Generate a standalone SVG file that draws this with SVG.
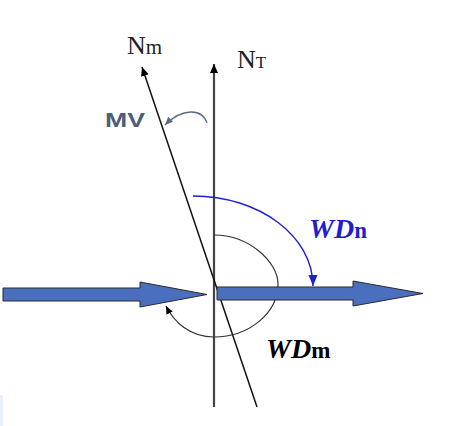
<svg xmlns="http://www.w3.org/2000/svg" width="454" height="426" viewBox="0 0 454 426">
<style>
.serif{font-family:"Liberation Serif","Times New Roman",serif;}
.blk{fill:#4a6fbf;stroke:#2a2a2a;stroke-width:1;}
</style>
<defs>
<marker id="ah" markerWidth="10" markerHeight="10" refX="9" refY="4" orient="auto" markerUnits="userSpaceOnUse"><path d="M0,0 L9,4 L0,8 Z" fill="#000"/></marker>
<marker id="ahs" markerWidth="10" markerHeight="8" refX="8" refY="3.5" orient="auto" markerUnits="userSpaceOnUse"><path d="M0,0 L8,3.5 L0,7 Z" fill="#000"/></marker>
<marker id="ahb" markerWidth="12" markerHeight="10" refX="11" refY="4.5" orient="auto" markerUnits="userSpaceOnUse"><path d="M0,0 L11,4.5 L0,9 Z" fill="#1f1fd0"/></marker>
<marker id="ahg" markerWidth="10" markerHeight="8" refX="8" refY="3.5" orient="auto" markerUnits="userSpaceOnUse"><path d="M0,0 L8,3.5 L0,7 Z" fill="#5b6b85"/></marker>
</defs>
<rect x="0" y="395" width="3" height="31" fill="#e9eff9"/>
<g id="connectors" fill="none">
<line id="nt-axis" x1="214" y1="407" x2="214" y2="64" stroke="#444" stroke-width="2.2" marker-end="url(#ah)"/>
<line id="nm-axis" x1="257" y1="407" x2="142" y2="67" stroke="#111" stroke-width="1.5" marker-end="url(#ah)"/>
<path id="mv-arc" d="M207,123 C202,108 182,108 165,125" stroke="#5b6b85" stroke-width="1.3" marker-end="url(#ahg)"/>
<path id="wdn-arc" d="M193,196 C259,196 313,236 313,286" stroke="#1f1fd0" stroke-width="1.4" marker-end="url(#ahb)"/>
<path id="wdm-arc" d="M214,235 C249,235 278,262 278,284 C278,313 249,337 214,337 C190,337 174,322 166,306" stroke="#333" stroke-width="1.2" marker-end="url(#ahs)"/>
</g>
<g id="arrow-in">
<polygon class="blk" points="3,288 140,288 140,282 207,294.5 140,307 140,301 3,301"/>
</g>
<g id="arrow-out">
<polygon class="blk" points="217,287 353,287 353,281 423,293.5 353,306 353,300 217,300"/>
</g>
<g id="label-nm">
<text class="serif" x="127" y="54" font-size="26" fill="#222">N<tspan font-size="21">m</tspan></text>
</g>
<g id="label-nt">
<text class="serif" x="237" y="68" font-size="26" fill="#222">N<tspan font-size="17">T</tspan></text>
</g>
<g id="label-mv">
<text x="105" y="127" font-family="Liberation Sans, Arial, sans-serif" font-weight="bold" font-size="21" fill="#4d5d7a" textLength="40" lengthAdjust="spacingAndGlyphs">MV</text>
</g>
<g id="label-wdn">
<text class="serif" x="309" y="238" font-size="28" font-weight="bold" font-style="italic" fill="#1f1fd0">WD<tspan font-style="normal" font-size="23">n</tspan></text>
</g>
<g id="label-wdm">
<text class="serif" x="266" y="358" font-size="28" font-weight="bold" font-style="italic" fill="#000">WD<tspan font-style="normal" font-size="23">m</tspan></text>
</g>
</svg>
